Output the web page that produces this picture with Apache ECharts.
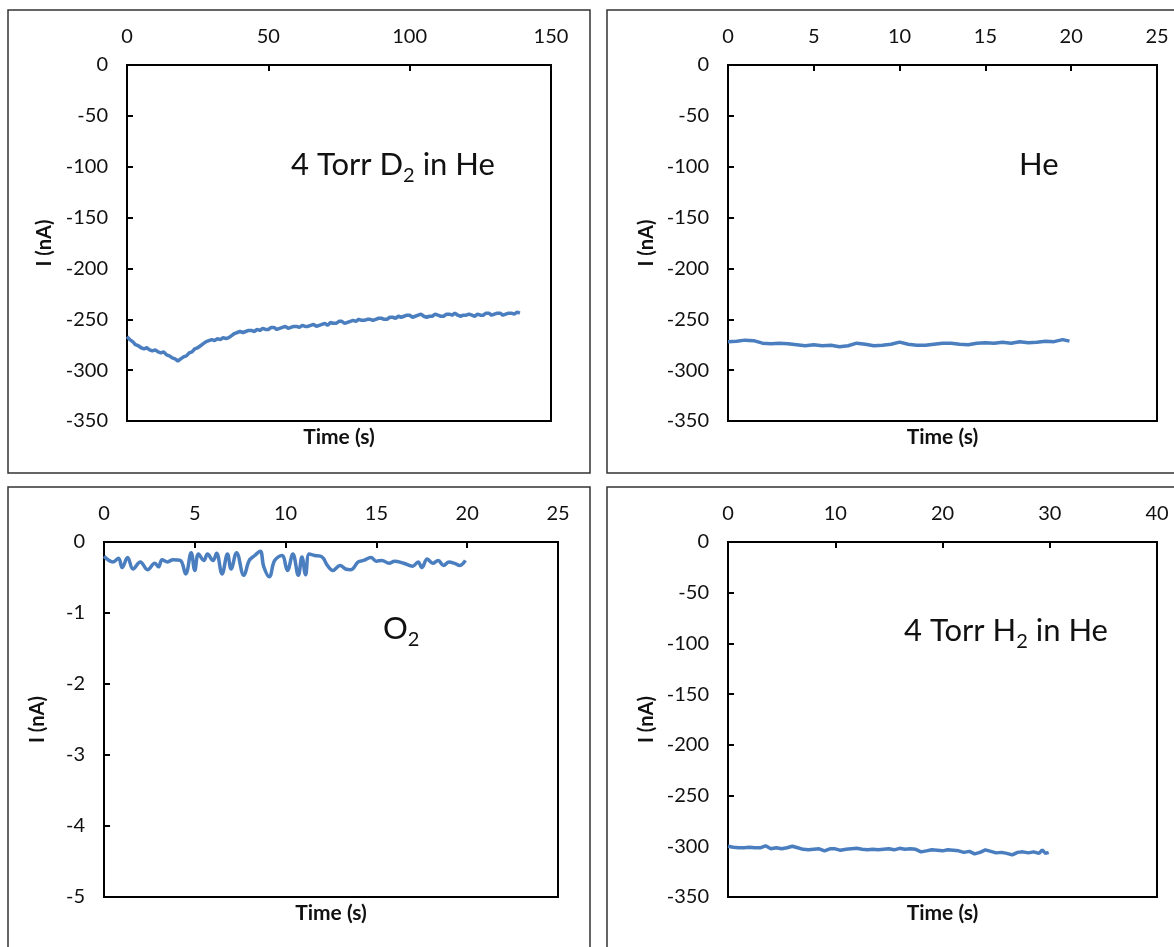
<!DOCTYPE html>
<html>
<head>
<meta charset="utf-8">
<title>Current vs time</title>
<script src="https://cdn.jsdelivr.net/npm/echarts@6/dist/echarts.min.js"></script>
<style>
  html, body { margin: 0; padding: 0; background: #fff; }
  #chart { width: 1174px; height: 947px; }
</style>
</head>
<body>
<div id="chart"></div>
<script>
// 4 Torr D2 in He
const d2Time = [0,1,2,3,4,5,6,7,8,9,10,11,12,13,14,15,16,17,18,19,20,21,22,23,24,25,26,27,28,29,30,31,32,33,34,35,36,37,38,39,40,41,42,43,44,45,46,47,48,49,50,51,52,53,54,55,56,57,58,59,60,61,62,63,64,65,66,67,68,69,70,71,72,73,74,75,76,77,78,79,80,81,82,83,84,85,86,87,88,89,90,91,92,93,94,95,96,97,98,99,100,101,102,103,104,105,106,107,108,109,110,111,112,113,114,115,116,117,118,119,120,121,122,123,124,125,126,127,128,129,130,131,132,133,134,135,136,137,138,139];
const d2Current = [-267,-270,-272,-275,-276,-278,-279,-278,-280,-281,-280,-282,-283,-282,-285,-286,-288,-289,-291,-289,-287,-286,-283,-282,-279,-278,-276,-274,-272,-271,-270,-271,-269,-270,-268,-269,-268,-266,-264,-263,-262,-263,-262,-261,-261,-262,-260,-261,-259,-260,-260,-258,-258,-260,-259,-258,-257,-259,-258,-257,-257,-258,-256,-257,-257,-256,-255,-257,-256,-255,-254,-256,-253,-254,-254,-252,-252,-254,-253,-252,-251,-252,-250,-251,-251,-250,-250,-251,-250,-249,-249,-250,-250,-248,-248,-249,-247,-248,-247,-246,-246,-248,-247,-246,-245,-247,-248,-247,-247,-245,-246,-247,-247,-245,-245,-246,-244,-246,-247,-246,-246,-245,-246,-247,-245,-246,-246,-244,-244,-246,-245,-244,-244,-246,-245,-244,-244,-245,-243,-244];

// He
const heTime = [0,0.5,1,1.5,2,2.5,3,3.5,4,4.5,5,5.5,6,6.5,7,7.5,8,8.5,9,9.5,10,10.5,11,11.5,12,12.5,13,13.5,14,14.5,15,15.5,16,16.5,17,17.5,18,18.5,19,19.5,19.9];
const heCurrent = [-272,-271.5,-270.5,-271,-273.5,-274,-273.5,-274,-275,-276,-275,-276,-275.5,-277,-276,-273.5,-274.5,-276,-275.5,-274.5,-272.5,-274.5,-275.5,-275.5,-274.5,-273.5,-273.5,-274.5,-275,-273.5,-273,-273.5,-272.5,-273.5,-272,-273,-272.5,-271.5,-272,-270,-271.5];

// O2
const o2Time = [0,0.5,0.8,1.0,1.3,1.6,2.0,2.4,2.8,3.0,3.2,3.5,3.8,4.2,4.5,4.8,5.0,5.2,5.5,5.7,6.0,6.2,6.5,6.8,7.0,7.3,7.7,8.0,8.3,8.6,8.8,9.1,9.4,9.8,10.1,10.4,10.7,10.9,11.1,11.3,11.6,12.0,12.3,12.6,13.0,13.3,13.6,14.0,14.3,14.7,15.0,15.3,15.7,16.0,16.5,17.0,17.3,17.5,17.8,18.1,18.4,18.7,19.0,19.3,19.6,19.9];
const o2Current = [-0.20,-0.28,-0.23,-0.36,-0.22,-0.38,-0.28,-0.39,-0.30,-0.35,-0.25,-0.28,-0.25,-0.26,-0.45,-0.15,-0.40,-0.17,-0.26,-0.17,-0.26,-0.16,-0.45,-0.17,-0.38,-0.15,-0.47,-0.26,-0.19,-0.13,-0.35,-0.49,-0.26,-0.19,-0.40,-0.17,-0.47,-0.21,-0.46,-0.17,-0.19,-0.21,-0.33,-0.40,-0.33,-0.38,-0.39,-0.28,-0.26,-0.22,-0.27,-0.26,-0.30,-0.27,-0.30,-0.34,-0.28,-0.36,-0.24,-0.30,-0.26,-0.33,-0.28,-0.30,-0.33,-0.26];

// 4 Torr H2 in He
const h2Time = [0,0.5,1,1.5,2,2.5,3,3.5,4,4.5,5,5.5,6,6.5,7,7.5,8,8.5,9,9.5,10,10.5,11,11.5,12,12.5,13,13.5,14,14.5,15,15.5,16,16.5,17,17.5,18,18.5,19,19.5,20,20.5,21,21.5,22,22.5,23,23.5,24,24.5,25,25.5,26,26.5,27,27.5,28,28.5,29,29.3,29.6,29.9];
const h2Current = [-300,-301,-301.5,-301.5,-301,-301.5,-301.5,-299.5,-302.5,-301.5,-302.5,-301.5,-300,-301.5,-303,-303.5,-303,-302.5,-304.5,-302.5,-302.5,-304,-303,-302.5,-302,-303,-303.5,-303,-303.5,-303,-302.5,-303.5,-302,-303,-302.5,-303,-305.5,-304.5,-303.5,-304,-304.5,-303.5,-304,-304.5,-306,-305,-307.5,-306,-303.5,-305,-306.5,-306,-307,-308.5,-306,-305.5,-306.5,-305.5,-307,-303.5,-307,-306];

// Axis ranges and tick steps
const xMax = [150, 25, 25, 40];
const xStep = [50, 5, 5, 10];
const yMin = [-350, -350, -5, -350];
const yStep = [50, 50, 1, 50];

const FONT = 'Lato';
const LINE_COLOR = '#4A7EBF';

const grids = [
  { left: 127, top: 65, width: 424, height: 356 },
  { left: 728, top: 65, width: 429, height: 356 },
  { left: 104, top: 542, width: 454, height: 355 },
  { left: 728, top: 542, width: 429, height: 355 }
];
const yNameGap = [72, 71, 56, 71];

const seriesData = [
  [d2Time, d2Current],
  [heTime, heCurrent],
  [o2Time, o2Current],
  [h2Time, h2Current]
];

const tickStyle = { show: true, inside: true, length: 6, lineStyle: { color: '#000', width: 2 } };
const lineAxis = { show: true, lineStyle: { color: '#000', width: 2 } };
const labelStyle = { color: '#111', fontFamily: FONT, fontSize: 20 };

const xAxes = [];
const yAxes = [];
const series = [];

grids.forEach((g, i) => {
  // tick labels along the top edge
  xAxes.push({
    type: 'value', gridIndex: i, position: 'top',
    min: 0, max: xMax[i], interval: xStep[i],
    axisLine: lineAxis, axisTick: tickStyle,
    axisLabel: Object.assign({ margin: 18, showMinLabel: true, showMaxLabel: true }, labelStyle),
    splitLine: { show: false }
  });
  yAxes.push({
    type: 'value', gridIndex: i,
    min: yMin[i], max: 0, interval: yStep[i],
    axisLine: lineAxis, axisTick: tickStyle,
    axisLabel: Object.assign({ margin: 19 }, labelStyle),
    splitLine: { show: false },
    name: 'I (nA)', nameLocation: 'middle', nameRotate: 90, nameGap: yNameGap[i],
    nameTextStyle: { fontFamily: FONT, fontWeight: 'bold', fontSize: 20, color: '#111' }
  });
  const [t, v] = seriesData[i];
  series.push({
    type: 'line', xAxisIndex: i, yAxisIndex: i,
    data: t.map((x, k) => [x, v[k]]),
    showSymbol: false, smooth: i === 2 ? 0.4 : false,
    lineStyle: { color: LINE_COLOR, width: 3.5 },
    silent: true, animation: false
  });
});

// axis title under each plot
grids.forEach((g, i) => {
  xAxes.push({
    type: 'value', gridIndex: i, position: 'bottom',
    min: 0, max: xMax[i],
    axisLine: { show: false }, axisTick: { show: false }, axisLabel: { show: false },
    splitLine: { show: false },
    name: 'Time (s)', nameLocation: 'middle', nameGap: 6,
    nameTextStyle: { fontFamily: FONT, fontWeight: 'bold', fontSize: 21, color: '#111', verticalAlign: 'top' }
  });
});

function panelBox(x, y, w, h) {
  return { type: 'rect', silent: true, z: 0,
    shape: { x: x, y: y, width: w, height: h },
    style: { fill: 'none', stroke: '#333', lineWidth: 1.5 } };
}

function gasLabel(x, y, parts) {
  return { type: 'text', silent: true, z: 10, x: x, y: y,
    style: {
      text: parts, fontFamily: FONT, verticalAlign: 'top', fill: '#111',
      rich: {
        a: { fontFamily: FONT, fontSize: 31, lineHeight: 42, fill: '#111' },
        s: { fontFamily: FONT, fontSize: 20, lineHeight: 20, verticalAlign: 'bottom', fill: '#111' }
      }
    } };
}

const option = {
  backgroundColor: '#fff',
  animation: false,
  grid: grids.map(g => Object.assign({ show: true, borderColor: '#000', borderWidth: 2, backgroundColor: 'transparent' }, g)),
  xAxis: xAxes,
  yAxis: yAxes,
  series: series,
  graphic: [
    panelBox(8, 10, 582, 463),
    panelBox(607, 10, 600, 463),
    panelBox(8, 487, 582, 500),
    panelBox(607, 487, 600, 500),
    gasLabel(291, 144, '{a|4 Torr D}{s|2}{a| in He}'),
    gasLabel(1019, 144, '{a|He}'),
    gasLabel(383, 608, '{a|O}{s|2}'),
    gasLabel(904, 610, '{a|4 Torr H}{s|2}{a| in He}')
  ]
};

const chart = echarts.init(document.getElementById('chart'), null, { renderer: 'canvas' });
chart.setOption(option);
</script>
</body>
</html>
